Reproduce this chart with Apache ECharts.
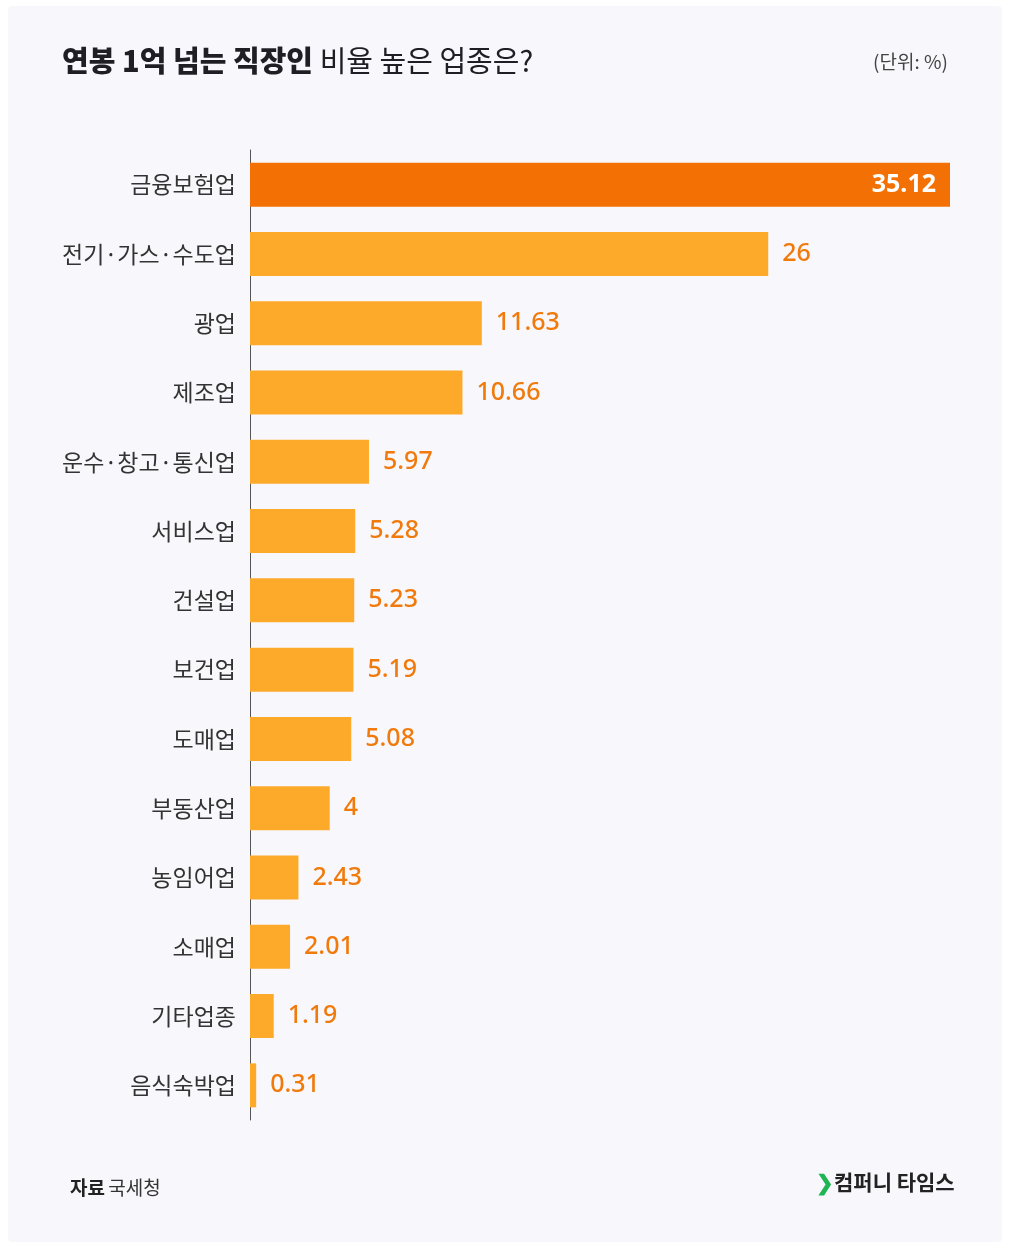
<!DOCTYPE html>
<html>
<head>
<meta charset="utf-8">
<script src="https://cdn.jsdelivr.net/npm/echarts@6/dist/echarts.min.js"></script>
<style>
  html, body { margin: 0; padding: 0; background: #fff; }
  #chart { width: 1010px; height: 1247px; }
</style>
</head>
<body>
<div id="chart"></div>
<script>
// 업종별 연봉 1억 초과 직장인 비율
var categories = ['금융보험업', '전기·가스·수도업', '광업', '제조업', '운수·창고·통신업', '서비스업', '건설업',
  '보건업', '도매업', '부동산업', '농임어업', '소매업', '기타업종', '음식숙박업'];
var values = [35.12, 26, 11.63, 10.66, 5.97, 5.28, 5.23, 5.19, 5.08, 4, 2.43, 2.01, 1.19, 0.31];

var font = '"Noto Sans CJK KR", "Noto Sans", sans-serif';
var chart = echarts.init(document.getElementById('chart'));

var option = {
  backgroundColor: '#ffffff',
  animation: false,
  textStyle: { fontFamily: font },
  graphic: [
    {
      type: 'rect', z: -10,
      shape: { x: 8, y: 6, width: 994, height: 1236, r: 4 },
      style: { fill: '#f8f8fc' }
    },
    {
      type: 'text', left: 62, top: 46,
      style: {
        text: '{b|연봉 1억 넘는 직장인}  {n|비율 높은 업종은?}',
        rich: {
          b: { fontSize: 29, fontWeight: 900, fill: '#1e1e24', fontFamily: font },
          n: { fontSize: 29, fontWeight: 'normal', fill: '#1e1e24', fontFamily: font }
        }
      }
    },
    {
      type: 'text', left: 873, top: 52,
      style: { text: '(단위: %)', fontSize: 19, fill: '#444', fontFamily: font }
    },
    {
      type: 'text', left: 70, top: 1178,
      style: {
        text: '{b|자료} {n|국세청}',
        rich: {
          b: { fontSize: 19, fontWeight: 'bold', fill: '#222', fontFamily: font },
          n: { fontSize: 19, fill: '#333', fontFamily: font }
        }
      }
    },
    {
      type: 'text', left: 816, top: 1172,
      style: {
        text: '{g|❯}{b|컴퍼니 타임스}',
        rich: {
          g: { fontSize: 21, fontWeight: 'bold', fill: '#1fb552', fontFamily: font },
          b: { fontSize: 21, fontWeight: 'bold', fill: '#222', fontFamily: font }
        }
      }
    }
  ],
  grid: { left: 250, right: 60, top: 150, bottom: 127 },
  xAxis: {
    type: 'value',
    min: 0,
    max: 35.12,
    show: false
  },
  yAxis: {
    type: 'category',
    inverse: true,
    data: categories,
    axisLine: { show: true, lineStyle: { color: '#555', width: 1 } },
    axisTick: { show: false },
    axisLabel: {
      color: '#333',
      fontSize: 23,
      margin: 14,
      fontFamily: font
    }
  },
  series: [
    {
      type: 'bar',
      barWidth: 44,
      data: values.map(function (v, i) {
        if (i === 0) {
          return {
            value: v,
            itemStyle: { color: '#f37104' },
            label: {
              position: 'insideRight',
              color: '#ffffff',
              fontWeight: 'bold',
              distance: 14
            }
          };
        }
        return v;
      }),
      itemStyle: { color: '#fdaa2a' },
      label: {
        show: true,
        position: 'right',
        distance: 14,
        color: '#f07a0c',
        fontSize: 25,
        fontWeight: 500,
        fontFamily: '"Noto Sans", "Open Sans", sans-serif'
      }
    }
  ]
};

chart.setOption(option);
</script>
</body>
</html>
